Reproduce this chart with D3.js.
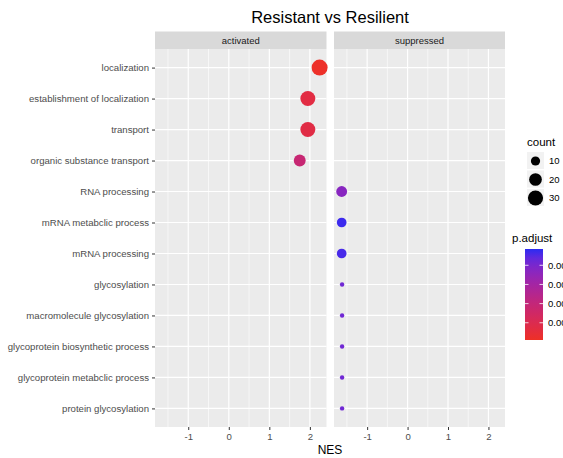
<!DOCTYPE html>
<html>
<head>
<meta charset="utf-8">
<script src="https://cdn.jsdelivr.net/npm/d3@7"></script>
<style>
  body { margin: 0; background: #fff; overflow: hidden; }
  text { font-family: "Liberation Sans", Arial, sans-serif; }
</style>
</head>
<body>
<script>
/*
 * Define some variables
 *
 */

const terms = [
  'localization',
  'establishment of localization',
  'transport',
  'organic substance transport',
  'RNA processing',
  'mRNA metabclic process',
  'mRNA processing',
  'glycosylation',
  'macromolecule glycosylation',
  'glycoprotein biosynthetic process',
  'glycoprotein metabclic process',
  'protein glycosylation'
];
const groups = ['activated', 'activated', 'activated', 'activated',
  'suppressed', 'suppressed', 'suppressed', 'suppressed',
  'suppressed', 'suppressed', 'suppressed', 'suppressed'];
const nes = [2.24, 1.95, 1.95, 1.75, -1.63, -1.63, -1.63, -1.62, -1.62, -1.62, -1.62, -1.62];
const counts = [34, 29, 29, 17, 14, 11, 11, 5, 5, 5, 5, 5];
const padj = [0.0003, 0.0014, 0.0015, 0.0037, 0.0074, 0.0095, 0.0093, 0.0083, 0.0083, 0.0083, 0.0083, 0.0083];

const facets = ['activated', 'suppressed'];
const xTicks = [-1, 0, 1, 2];
const xMinor = [-1.5, -0.5, 0.5, 1.5];
const countBreaks = [10, 20, 30];
const padjBreaks = [0.002, 0.004, 0.006, 0.008];

const data = terms.map((t, i) => ({
  term: t, group: groups[i], nes: nes[i], count: counts[i], padj: padj[i]
}));

const svgWidth = 563,
  svgHeight = 458,
  panelTop = 49,
  panelBottom = 427,
  stripTop = 31.5,
  panelX = { activated: [155, 326.5], suppressed: [334, 505] };

/*
 * Define the scales
 *
 */

const xDomain = [-1.82, 2.41];
const xScales = {};
facets.forEach(f => {
  xScales[f] = d3.scaleLinear().domain(xDomain).range(panelX[f]);
});

const yScale = d3.scalePoint()
  .domain(terms)
  .range([panelTop, panelBottom])
  .padding(0.6);

const cMin = d3.min(counts), cMax = d3.max(counts);
const rScale = v => 2.2 + 5.8 * Math.sqrt((v - cMin) / (cMax - cMin));

const pDomain = [0.0002, 0.0097];
const colorScale = d3.scaleLinear()
  .domain(pDomain)
  .range(['#ee3026', '#2b2bf2'])
  .interpolate(d3.interpolateLab);

/*
 * Create the svg
 *
 */
const svg = d3.select('body')
  .append('svg')
  .attr('width', svgWidth)
  .attr('height', svgHeight);

svg.append('text')
  .attr('x', 330)
  .attr('y', 23)
  .attr('text-anchor', 'middle')
  .style('font-size', '16.5px')
  .attr('fill', '#000')
  .text('Resistant vs Resilient');

/*
 * Panels, strips, grid
 *
 */
facets.forEach(f => {
  const x = xScales[f];
  const [x0, x1] = panelX[f];
  const g = svg.append('g');

  g.append('rect')
    .attr('x', x0).attr('y', stripTop)
    .attr('width', x1 - x0).attr('height', panelTop - stripTop)
    .attr('fill', '#d9d9d9');
  g.append('text')
    .attr('x', (x0 + x1) / 2)
    .attr('y', (stripTop + panelTop) / 2 + 3.4)
    .attr('text-anchor', 'middle')
    .style('font-size', '9.5px')
    .attr('fill', '#1a1a1a')
    .text(f);

  g.append('rect')
    .attr('x', x0).attr('y', panelTop)
    .attr('width', x1 - x0).attr('height', panelBottom - panelTop)
    .attr('fill', '#ebebeb');

  g.selectAll('.minor').data(xMinor).enter().append('line')
    .attr('x1', d => x(d)).attr('x2', d => x(d))
    .attr('y1', panelTop).attr('y2', panelBottom)
    .attr('stroke', '#fff').attr('stroke-width', 0.6);

  g.selectAll('.major').data(xTicks).enter().append('line')
    .attr('x1', d => x(d)).attr('x2', d => x(d))
    .attr('y1', panelTop).attr('y2', panelBottom)
    .attr('stroke', '#fff').attr('stroke-width', 1.2);

  g.selectAll('.hgrid').data(terms).enter().append('line')
    .attr('x1', x0).attr('x2', x1)
    .attr('y1', d => yScale(d)).attr('y2', d => yScale(d))
    .attr('stroke', '#fff').attr('stroke-width', 1.2);

  const ax = g.append('g')
    .attr('transform', `translate(0,${panelBottom})`)
    .call(d3.axisBottom(x).tickValues(xTicks).tickFormat(d => String(d)).tickSize(3).tickPadding(3));
  ax.select('.domain').remove();
  ax.selectAll('line').attr('stroke', '#333');
  ax.selectAll('text')
    .attr('fill', '#4d4d4d')
    .style('font-size', '9.6px')
    .style('font-family', '"Liberation Sans", Arial, sans-serif');

  /*
   * Draw my data
   *
   */
  g.selectAll('circle')
    .data(data.filter(d => d.group === f))
    .enter().append('circle')
    .attr('cx', d => x(d.nes))
    .attr('cy', d => yScale(d.term))
    .attr('r', d => rScale(d.count))
    .attr('fill', d => colorScale(d.padj));
});

const ay = svg.append('g')
  .attr('transform', `translate(${panelX.activated[0]},0)`)
  .call(d3.axisLeft(yScale).tickSize(3).tickPadding(3));
ay.select('.domain').remove();
ay.selectAll('line').attr('stroke', '#333');
ay.selectAll('text')
  .attr('fill', '#4d4d4d')
  .style('font-size', '9.6px')
  .style('font-family', '"Liberation Sans", Arial, sans-serif');

svg.append('text')
  .attr('x', 330)
  .attr('y', 454)
  .attr('text-anchor', 'middle')
  .style('font-size', '12px')
  .attr('fill', '#000')
  .text('NES');

/*
 * Legends
 *
 */
const lg = svg.append('g');
lg.append('text')
  .attr('x', 527).attr('y', 146)
  .style('font-size', '11.5px')
  .attr('fill', '#000')
  .text('count');

const keyY = [161, 179.5, 198];
countBreaks.forEach((c, i) => {
  lg.append('rect')
    .attr('x', 527).attr('y', keyY[i] - 9)
    .attr('width', 17).attr('height', 17)
    .attr('fill', '#f2f2f2');
  lg.append('circle')
    .attr('cx', 535.5).attr('cy', keyY[i])
    .attr('r', rScale(c))
    .attr('fill', '#000');
  lg.append('text')
    .attr('x', 549).attr('y', keyY[i] + 3.3)
    .style('font-size', '9.5px')
    .attr('fill', '#000')
    .text(c);
});

lg.append('text')
  .attr('x', 512).attr('y', 242)
  .style('font-size', '11.5px')
  .attr('fill', '#000')
  .text('p.adjust');

const barTop = 249, barBottom = 340, barX = 525, barW = 18;
const barScale = d3.scaleLinear().domain(pDomain).range([barBottom, barTop]);

const grad = svg.append('defs').append('linearGradient')
  .attr('id', 'padj-grad')
  .attr('x1', 0).attr('y1', 1).attr('x2', 0).attr('y2', 0);
d3.range(0, 1.001, 0.1).forEach(t => {
  grad.append('stop')
    .attr('offset', t)
    .attr('stop-color', colorScale(pDomain[0] + t * (pDomain[1] - pDomain[0])));
});

lg.append('rect')
  .attr('x', barX).attr('y', barTop)
  .attr('width', barW).attr('height', barBottom - barTop)
  .attr('fill', 'url(#padj-grad)');

padjBreaks.forEach(p => {
  const y = barScale(p);
  lg.append('line')
    .attr('x1', barX).attr('x2', barX + 3.5)
    .attr('y1', y).attr('y2', y)
    .attr('stroke', '#fff').attr('stroke-width', 0.8);
  lg.append('line')
    .attr('x1', barX + barW - 3.5).attr('x2', barX + barW)
    .attr('y1', y).attr('y2', y)
    .attr('stroke', '#fff').attr('stroke-width', 0.8);
  lg.append('text')
    .attr('x', 548).attr('y', y + 3.3)
    .style('font-size', '9.5px')
    .attr('fill', '#000')
    .text(p.toFixed(3));
});
</script>
</body>
</html>
